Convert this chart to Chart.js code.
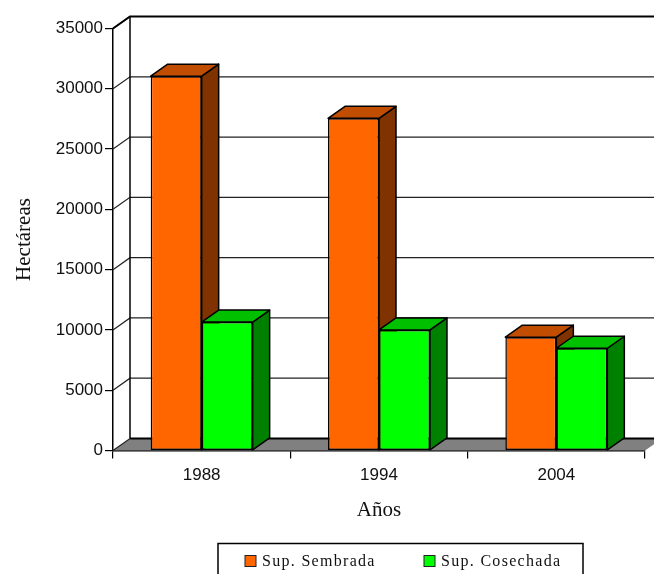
<!DOCTYPE html>
<html>
<head>
<meta charset="utf-8">
<script src="https://cdn.jsdelivr.net/npm/chart.js@4"></script>
<style>
  html, body { margin: 0; padding: 0; background: #fff; overflow: hidden; }
  #wrap { width: 654px; height: 574px; }
</style>
</head>
<body>
<div id="wrap"><canvas id="chart" width="654" height="574"></canvas></div>
<script>
const years = ['1988', '1994', '2004'];
const sembrada = [31050, 27550, 9400];
const cosechada = [10650, 10000, 8480];
const yTicks = [0, 5000, 10000, 15000, 20000, 25000, 30000, 35000];

const DEPTH_X = 17;
const DEPTH_Y = 12;
const LINE = '#000';
const SERIF = 'Liberation Serif';

// back wall, floor and the gridlines running round the corner
const wallsPlugin = {
  id: 'walls',
  beforeDatasetsDraw(chart) {
    const { ctx, chartArea: a, scales: { y } } = chart;
    const right = a.right + DEPTH_X;
    ctx.save();

    ctx.fillStyle = '#808080';
    ctx.beginPath();
    ctx.moveTo(a.left, a.bottom);
    ctx.lineTo(a.left + DEPTH_X, a.bottom - DEPTH_Y);
    ctx.lineTo(right, a.bottom - DEPTH_Y);
    ctx.lineTo(a.right, a.bottom);
    ctx.closePath();
    ctx.fill();

    ctx.strokeStyle = '#222';
    ctx.lineWidth = 1.2;
    yTicks.forEach((v) => {
      const py = y.getPixelForValue(v);
      ctx.beginPath();
      ctx.moveTo(a.left, py);
      ctx.lineTo(a.left + DEPTH_X, py - DEPTH_Y);
      ctx.lineTo(right, py - DEPTH_Y);
      ctx.stroke();
    });

    ctx.strokeStyle = LINE;
    ctx.lineWidth = 1.5;
    ctx.beginPath();
    ctx.moveTo(a.left + DEPTH_X, a.top - DEPTH_Y);
    ctx.lineTo(a.left + DEPTH_X, a.bottom - DEPTH_Y);
    ctx.stroke();

    ctx.lineWidth = 2;
    ctx.beginPath();
    ctx.moveTo(a.left, a.top);
    ctx.lineTo(a.left + DEPTH_X, a.top - DEPTH_Y);
    ctx.lineTo(right, a.top - DEPTH_Y);
    ctx.moveTo(a.left + DEPTH_X, a.bottom - DEPTH_Y);
    ctx.lineTo(right, a.bottom - DEPTH_Y);
    ctx.stroke();
    ctx.restore();
  }
};

// side and top faces of each bar, the front is the normal bar element
const depthPlugin = {
  id: 'depth',
  beforeDatasetsDraw(chart) {
    const { ctx } = chart;
    ctx.save();
    ctx.strokeStyle = LINE;
    ctx.lineWidth = 1.5;
    ctx.lineJoin = 'round';
    years.forEach((_, i) => {
      chart.data.datasets.forEach((ds, d) => {
        const bar = chart.getDatasetMeta(d).data[i];
        const l = bar.x - bar.width / 2;
        const r = bar.x + bar.width / 2;
        const poly = (pts, fill) => {
          ctx.fillStyle = fill;
          ctx.beginPath();
          pts.forEach(([x, y], k) => (k ? ctx.lineTo(x, y) : ctx.moveTo(x, y)));
          ctx.closePath();
          ctx.fill();
          ctx.stroke();
        };
        poly([[r, bar.y], [r + DEPTH_X, bar.y - DEPTH_Y], [r + DEPTH_X, bar.base - DEPTH_Y], [r, bar.base]], ds.sideColor);
        poly([[l, bar.y], [l + DEPTH_X, bar.y - DEPTH_Y], [r + DEPTH_X, bar.y - DEPTH_Y], [r, bar.y]], ds.topColor);
      });
    });
    ctx.restore();
  }
};

// boxed legend under the plot, the built-in one can't sit off-centre like this
const legendBoxPlugin = {
  id: 'legendBox',
  afterDraw(chart) {
    const { ctx } = chart;
    const swatchX = [245, 424];
    ctx.save();
    ctx.strokeStyle = LINE;
    ctx.lineWidth = 1.5;
    ctx.strokeRect(218, 543.5, 365, 40);
    ctx.font = '16px "' + SERIF + '"';
    ctx.letterSpacing = '1.3px';
    ctx.textBaseline = 'middle';
    chart.data.datasets.forEach((ds, i) => {
      ctx.fillStyle = ds.backgroundColor;
      ctx.lineWidth = 1;
      ctx.strokeStyle = '#222';
      ctx.fillRect(swatchX[i], 555.5, 11, 11);
      ctx.strokeRect(swatchX[i], 555.5, 11, 11);
      ctx.fillStyle = '#111';
      ctx.fillText(ds.label, swatchX[i] + 17, 561.5);
    });
    ctx.restore();
  }
};

new Chart(document.getElementById('chart'), {
  type: 'bar',
  data: {
    labels: years,
    datasets: [
      {
        label: 'Sup. Sembrada',
        data: sembrada,
        backgroundColor: '#FF6600',
        sideColor: '#803300',
        topColor: '#C04D00',
        borderColor: LINE,
        borderWidth: 1.5,
        borderSkipped: false
      },
      {
        label: 'Sup. Cosechada',
        data: cosechada,
        backgroundColor: '#00FF00',
        sideColor: '#008000',
        topColor: '#00C000',
        borderColor: LINE,
        borderWidth: 1.5,
        borderSkipped: false
      }
    ]
  },
  plugins: [wallsPlugin, depthPlugin, legendBoxPlugin],
  options: {
    responsive: false,
    animation: false,
    layout: { padding: { top: 28.5, right: 9, left: 0, bottom: 0 } },
    datasets: { bar: { categoryPercentage: 0.575, barPercentage: 1 } },
    scales: {
      x: {
        afterFit: (s) => { s.height = 123.5; },
        grid: { offset: true, drawOnChartArea: false, color: LINE, tickLength: 8, lineWidth: 1.2 },
        border: { color: LINE, width: 1.5 },
        ticks: { color: '#111', font: { family: 'Liberation Sans', size: 17 }, padding: 7, maxRotation: 0 },
        title: { display: true, text: 'Años', color: '#111', font: { family: SERIF, size: 21 }, padding: { top: 10, bottom: 51 } }
      },
      y: {
        min: 0,
        max: 35000,
        afterFit: (s) => { s.width = 113; },
        afterBuildTicks: (s) => { s.ticks = yTicks.map((value) => ({ value })); },
        grid: { drawOnChartArea: false, color: LINE, tickLength: 8, lineWidth: 1.2 },
        border: { color: LINE, width: 1.5 },
        ticks: { color: '#111', font: { family: 'Liberation Sans', size: 17 }, padding: 2, callback: (v) => String(v) },
        title: { display: true, text: 'Hectáreas', color: '#111', font: { family: SERIF, size: 21 }, padding: { top: 12, bottom: 0 } }
      }
    },
    plugins: {
      tooltip: { enabled: false },
      legend: { display: false }
    }
  }
});
</script>
</body>
</html>
